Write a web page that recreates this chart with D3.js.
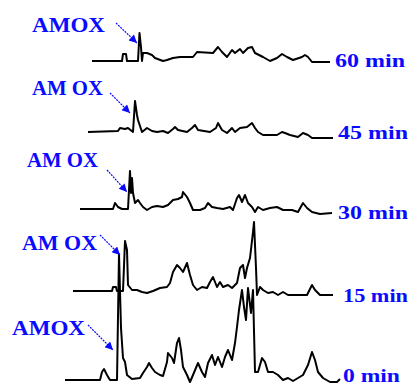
<!DOCTYPE html>
<html><head><meta charset="utf-8">
<script src="https://cdn.jsdelivr.net/npm/d3@7"></script>
<style>html,body{margin:0;padding:0;background:#fff;}svg{display:block;}</style>
</head><body>
<script>
// Trace data: [retention time (min), intensity (a.u.)]
const trace60 = [[3.2,0],[6.2,0],[6.3,7],[6.6,7],[6.7,0],[7.8,0],[7.95,28],[8.1,14],[8.2,0],[8.3,8],[8.7,8],[9.2,6],[9.5,3],[10.3,0],[10.7,1],[11.3,3],[12.0,4],[13.3,4],[13.7,9],[15.3,8],[15.8,14],[16.2,9],[16.7,4],[17.2,11],[17.5,8],[18.0,12],[18.3,8],[18.8,13],[19.2,14],[19.5,8],[20.3,4],[21.0,0],[21.7,3],[22.2,7],[22.7,4],[23.3,1],[24.2,4],[24.5,6],[24.8,4],[25.2,-1],[27.0,-1]];
const trace45 = [[2.8,-1],[5.8,0],[6.0,3],[6.5,2],[6.8,3],[7.3,-1],[7.5,30],[7.7,16],[7.8,11],[8.2,-1],[8.7,3],[9.2,0],[9.7,-1],[10.3,0],[10.8,-2],[11.3,2],[11.5,4],[11.8,1],[12.7,-1],[13.2,3],[13.5,6],[13.8,1],[15.0,-1],[15.6,3],[15.8,8],[16.2,1],[16.7,-2],[17.2,3],[17.5,-1],[18.0,3],[18.7,4],[19.2,8],[19.5,3],[19.8,-1],[20.3,-4],[21.7,-4],[22.2,-1],[22.5,-2],[23.0,-4],[23.8,-6],[24.3,-2],[24.8,-4],[25.2,-7],[27.3,-7]];
const trace30 = [[2.0,0],[5.3,0],[5.5,6],[5.8,2],[6.2,0],[6.8,0],[7.0,38],[7.1,16],[7.2,31],[7.3,16],[7.5,6],[7.8,9],[8.0,6],[8.3,2],[8.7,-1],[9.2,2],[9.7,3],[10.3,2],[10.8,4],[11.3,9],[11.8,10],[12.2,12],[12.3,17],[12.7,12],[13.0,6],[13.3,-1],[14.0,-1],[14.5,1],[14.8,6],[15.2,2],[15.7,1],[16.3,0],[17.0,2],[17.3,-1],[17.7,11],[17.9,14],[18.2,7],[18.5,14],[18.8,6],[19.2,2],[19.5,-3],[19.8,2],[20.3,-1],[21.0,1],[21.7,2],[22.3,-1],[23.2,-1],[23.8,-3],[24.3,6],[24.7,1],[25.2,-3],[26.0,-5],[27.2,-4]];
const trace15 = [[1.3,0],[5.2,0],[5.3,4],[5.6,4],[5.7,0],[6.3,0],[6.5,50],[6.7,41],[6.8,6],[7.2,1],[7.7,1],[8.2,-1],[8.7,-2],[9.3,0],[10.0,3],[10.7,4],[11.0,8],[11.3,19],[11.7,26],[12.0,23],[12.3,19],[12.7,28],[13.0,16],[13.3,6],[13.7,1],[14.2,4],[14.7,3],[15.0,9],[15.3,14],[15.7,4],[16.0,9],[16.3,4],[16.8,6],[17.2,3],[17.7,8],[18.0,23],[18.3,26],[18.5,13],[18.7,23],[19.0,33],[19.3,59],[19.4,69],[19.6,23],[19.7,-4],[20.0,4],[20.3,1],[20.8,-2],[21.3,-1],[21.8,-4],[22.3,-1],[22.8,-4],[23.7,-4],[24.7,-4],[25.2,6],[25.5,1],[26.0,-4],[27.3,-4]];
const trace0 = [[0.5,0],[4.0,0],[4.2,8],[4.4,11],[4.7,5],[5.0,0],[5.7,0],[5.9,126],[6.1,52],[6.3,22],[6.5,18],[6.7,5],[7.2,1],[8.0,2],[8.3,7],[8.7,13],[8.9,17],[9.2,12],[9.5,8],[10.0,5],[10.3,4],[10.7,18],[10.8,27],[11.2,22],[11.4,17],[11.7,37],[11.9,42],[12.1,30],[12.3,13],[12.7,5],[13.0,-2],[13.3,5],[13.8,17],[14.2,8],[14.5,3],[14.8,17],[15.2,25],[15.5,15],[15.8,23],[16.2,13],[16.5,23],[16.8,30],[17.2,20],[17.5,37],[17.7,53],[17.9,70],[18.2,90],[18.4,73],[18.6,60],[18.8,92],[19.1,67],[19.3,90],[19.5,8],[19.8,8],[20.2,22],[20.5,18],[20.8,8],[21.3,8],[21.8,5],[22.3,0],[22.8,2],[23.3,-1],[23.8,2],[24.3,5],[24.8,15],[25.2,28],[25.5,20],[25.8,8],[26.3,2],[27.0,-2],[27.7,-2],[28.0,1]];

const traces = [trace60, trace45, trace30, trace15, trace0];
const timeLabels = ["60 min", "45 min", "30 min", "15 min", "0 min"];
const peakLabels = ["AMOX", "AM OX", "AM OX", "AM OX", "AMOX"];

// layout (pixels)
const W = 412, H = 385;
const baselines = [61, 131, 209, 291, 380];
const timeLabelPos = [[335, 67, 70], [338, 139, 70], [338, 219, 70], [343, 302, 65], [343, 382, 57]];
const peakLabelPos = [[32, 32, 73], [32, 95, 71], [27, 167, 71], [22, 250, 75], [12, 335, 73]];
const arrowPos = [[116, 23, 137, 43], [110, 93, 130, 113], [107, 170, 127, 192], [100, 235, 120, 255], [88, 325, 113, 350]];

const blue = "#0a0aff";

const svg = d3.select("body").append("svg").attr("width", W).attr("height", H);

const x = d3.scaleLinear().domain([0, 29]).range([60, 350]);
const y = d3.scaleLinear().domain([0, 130]).range([0, -130]);

svg.append("defs").append("marker")
  .attr("id", "ah").attr("viewBox", "0 0 10 10").attr("refX", 10).attr("refY", 5)
  .attr("markerWidth", 12).attr("markerHeight", 8).attr("markerUnits", "userSpaceOnUse")
  .attr("orient", "auto")
  .append("path").attr("d", "M0,0 L10,5 L0,10 Z").attr("fill", blue);

const line = d3.line().x(d => x(d[0])).y(d => y(d[1]));

traces.forEach((tr, i) => {
  const g = svg.append("g").attr("transform", `translate(0,${baselines[i]})`);
  g.append("path").datum(tr).attr("d", line)
    .attr("fill", "none").attr("stroke", "#000").attr("stroke-width", 2)
    .attr("stroke-linejoin", "round");
});

timeLabels.forEach((t, i) => {
  const p = timeLabelPos[i];
  svg.append("text").attr("x", p[0]).attr("y", p[1]).text(t)
    .attr("font-family", "'Liberation Serif', 'Times New Roman', serif")
    .attr("font-weight", "bold").attr("font-size", 19).attr("fill", blue)
    .attr("textLength", p[2]).attr("lengthAdjust", "spacingAndGlyphs");
});

peakLabels.forEach((t, i) => {
  const p = peakLabelPos[i];
  svg.append("text").attr("x", p[0]).attr("y", p[1]).text(t)
    .attr("font-family", "'Liberation Serif', 'Times New Roman', serif")
    .attr("font-weight", "bold").attr("font-size", 21).attr("fill", blue)
    .attr("textLength", p[2]).attr("lengthAdjust", "spacingAndGlyphs");
  const a = arrowPos[i];
  svg.append("line").attr("x1", a[0]).attr("y1", a[1]).attr("x2", a[2]).attr("y2", a[3])
    .attr("stroke", blue).attr("stroke-width", 1.2).attr("stroke-dasharray", "2,1")
    .attr("marker-end", "url(#ah)");
});
</script>
</body></html>
